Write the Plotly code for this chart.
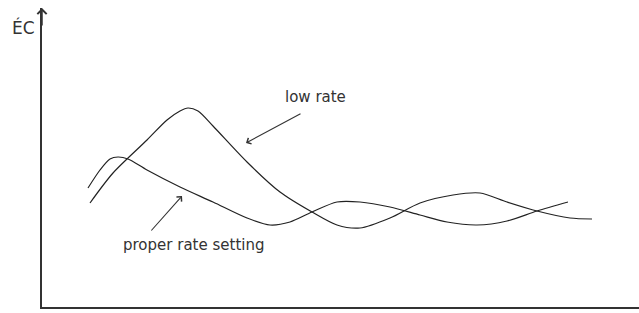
import plotly.graph_objects as go

# Data (time units, EC units)
proper_x = [46, 58, 68, 76, 86, 105, 138, 171, 205, 228, 248, 270, 295, 318, 348, 378, 405, 435, 465, 495, 526]
proper_y = [119, 137, 148, 150, 148, 137, 120, 105, 89, 82, 85, 95, 105, 105, 100, 92, 85, 82, 86, 96, 105]

low_x = [48, 71, 105, 125, 138, 146, 156, 171, 205, 238, 270, 295, 318, 348, 378, 411, 438, 465, 495, 528, 550]
low_y = [104, 134, 167, 187, 196, 199, 196, 181, 145, 115, 95, 82, 79, 89, 104, 112, 114, 105, 96, 89, 88]

y_label = "ÉC"
low_label = "low rate"
proper_label = "proper rate setting"

line_col = "#222222"
font = dict(family="DejaVu Sans, Verdana, sans-serif", size=15, color="#333333")

fig = go.Figure()
fig.add_trace(go.Scatter(x=proper_x, y=proper_y, mode="lines",
                         line=dict(color=line_col, width=1.2, shape="spline", smoothing=0.8),
                         hoverinfo="skip", showlegend=False))
fig.add_trace(go.Scatter(x=low_x, y=low_y, mode="lines",
                         line=dict(color=line_col, width=1.2, shape="spline", smoothing=0.8),
                         hoverinfo="skip", showlegend=False))

# y-axis arrow
fig.add_annotation(x=0, y=299, ax=0, ay=280, xref="x", yref="y", axref="x", ayref="y",
                   showarrow=True, arrowhead=4, arrowsize=1.2, arrowwidth=1.5,
                   arrowcolor="#333333", text="")
# pointer arrows
fig.add_annotation(x=204, y=164, ax=260, ay=194, xref="x", yref="y", axref="x", ayref="y",
                   showarrow=True, arrowhead=4, arrowsize=1.2, arrowwidth=1.1,
                   arrowcolor="#333333", text="")
fig.add_annotation(x=140, y=111, ax=108, ay=75, xref="x", yref="y", axref="x", ayref="y",
                   showarrow=True, arrowhead=4, arrowsize=1.2, arrowwidth=1.1,
                   arrowcolor="#333333", text="")
# labels
fig.add_annotation(x=273, y=210, xref="x", yref="y", text=low_label, showarrow=False, font=font,
                   xanchor="center", yanchor="middle")
fig.add_annotation(x=151, y=62, xref="x", yref="y", text=proper_label, showarrow=False, font=font,
                   xanchor="center", yanchor="middle")
fig.add_annotation(x=-0.031, y=0.935, xref="paper", yref="paper", text=y_label, showarrow=False,
                   xanchor="center", yanchor="middle",
                   font=dict(family="DejaVu Sans, Verdana, sans-serif", size=17, color="#333333"))

fig.update_layout(
    width=639, height=313,
    margin=dict(l=42, r=0, t=8, b=6),
    paper_bgcolor="white", plot_bgcolor="white",
    xaxis=dict(range=[0, 597], showgrid=False, zeroline=False, showticklabels=False,
               ticks="", showline=True, linecolor="#333333", linewidth=1.5),
    yaxis=dict(range=[0, 299], showgrid=False, zeroline=False, showticklabels=False,
               ticks="", showline=True, linecolor="#333333", linewidth=1.5),
)
fig.write_html("out.html", config={"displayModeBar": False},
               post_script="document.body.style.margin='0';document.body.style.overflow='hidden';")
